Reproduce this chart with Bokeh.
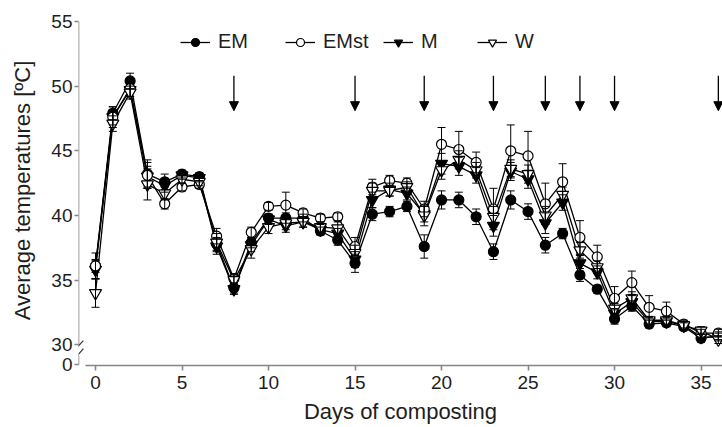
from bokeh.plotting import figure
from bokeh.models import (ColumnDataSource, Whisker, TeeHead, Arrow, NormalHead,
                          FixedTicker, Legend, LegendItem, Range1d)
from bokeh.embed import file_html
from bokeh.resources import INLINE

# ---------------- data ----------------
days = list(range(0, 37))

em = [36.1, 47.9, 50.4, 43.2, 42.6, 43.2, 43.0, 37.8, 34.4, 37.9, 39.8, 39.8, 39.8,
      38.8, 38.1, 36.3, 40.1, 40.3, 40.7, 37.6, 41.2, 41.2, 39.9, 37.2, 41.2, 40.3,
      37.7, 38.6, 35.4, 34.3, 32.0, 33.0, 31.6, 31.7, 31.4, 30.5, 30.7]
emst = [36.1, 47.6, 49.8, 43.1, 40.9, 42.2, 42.4, 38.4, 35.1, 38.7, 40.7, 40.8, 40.2,
        39.8, 39.9, 37.6, 42.2, 42.7, 42.5, 40.5, 45.5, 45.1, 44.1, 40.5, 45.0, 44.6,
        40.9, 42.6, 38.3, 36.8, 33.6, 34.8, 32.9, 32.6, 31.6, 30.9, 30.9]
m = [35.8, 47.6, 49.7, 43.0, 42.3, 43.1, 42.9, 37.6, 34.3, 37.7, 39.7, 39.2, 39.5,
     38.9, 38.6, 36.6, 41.2, 42.0, 41.7, 40.1, 44.0, 43.8, 43.1, 39.2, 43.4, 42.8,
     39.4, 41.0, 36.3, 35.6, 32.4, 33.3, 31.8, 31.8, 31.5, 30.6, 30.6]
w = [34.0, 47.1, 49.5, 42.4, 41.7, 42.8, 42.6, 37.9, 35.0, 37.4, 39.1, 39.4, 39.5,
     39.1, 39.0, 37.1, 41.9, 41.9, 42.2, 40.0, 43.5, 44.3, 43.5, 39.9, 43.6, 43.2,
     40.0, 41.6, 37.3, 36.0, 32.8, 33.6, 31.9, 31.9, 31.5, 31.1, 30.4]

em_sd = [0.5, 0.5, 0.6, 1.1, 0.6, 0.3, 0.3, 0.5, 0.4, 0.4, 0.3, 0.4, 0.3, 0.3, 0.4, 0.7,
         0.5, 0.4, 0.4, 0.9, 0.7, 0.6, 0.6, 0.6, 0.7, 0.6, 0.6, 0.4, 0.5, 0.3, 0.4, 0.4,
         0.3, 0.3, 0.3, 0.3, 0.3]
emst_sd = [1.0, 0.8, 0.6, 1.0, 0.4, 0.3, 0.3, 0.6, 0.4, 0.4, 0.3, 1.0, 0.3, 0.3, 0.3, 0.7,
           0.6, 0.4, 0.4, 0.6, 1.3, 1.4, 0.8, 1.6, 2.0, 1.9, 1.6, 1.4, 1.3, 0.9, 0.9, 0.9,
           0.9, 0.7, 0.3, 0.3, 0.3]
m_sd = [0.7, 0.6, 0.5, 0.8, 0.5, 0.3, 0.3, 0.6, 0.4, 0.5, 0.4, 0.5, 0.4, 0.4, 0.4, 0.6,
        0.6, 0.5, 0.5, 0.6, 0.8, 0.7, 0.6, 0.8, 0.7, 0.7, 0.8, 0.6, 0.6, 0.5, 0.4, 0.5,
        0.3, 0.3, 0.3, 0.3, 0.3]
w_sd = [1.1, 0.6, 0.5, 1.2, 0.5, 0.3, 0.3, 0.7, 0.4, 0.7, 0.5, 0.5, 0.4, 0.4, 0.5, 0.6,
        0.6, 0.4, 0.4, 0.8, 0.7, 0.7, 0.6, 0.8, 0.7, 0.7, 0.7, 0.6, 0.6, 0.5, 0.4, 0.5,
        0.3, 0.3, 0.3, 0.3, 0.3]

arrow_days = [8, 15, 19, 23, 26, 28, 30, 36]

x_ticks = [0, 5, 10, 15, 20, 25, 30, 35]
y_ticks = [28.5, 30, 35, 40, 45, 50, 55]
y_tick_labels = {28.5: "0"}

# ---------------- layout constants ----------------
FONT = "Liberation Sans"
AXIS_COLOR = "#858585"
TEXT_COLOR = "#1e1e1e"
X_START, X_END = -0.983, 36.24
Y_START, Y_END = 28.40, 55.46
ARROW_TOP, ARROW_TIP = 50.8, 48.1

p = figure(width=722, height=427, output_backend="svg", toolbar_location=None,
           x_range=Range1d(X_START, X_END), y_range=Range1d(Y_START, Y_END),
           min_border_left=78, min_border_right=0, min_border_top=15,
           min_border_bottom=62)
p.outline_line_color = None
p.grid.visible = False
p.background_fill_color = "white"

series = [
    ("EM", em, em_sd, "circle", "black", 10),
    ("EMst", emst, emst_sd, "circle", "white", 10),
    ("M", m, m_sd, "inverted_triangle", "black", 12),
    ("W", w, w_sd, "inverted_triangle", "white", 12),
]

# error bars
for name, vals, sd, mk, fc, sz in series:
    src = ColumnDataSource(dict(x=days,
                                lo=[v - s for v, s in zip(vals, sd)],
                                hi=[v + s for v, s in zip(vals, sd)]))
    p.add_layout(Whisker(source=src, base="x", lower="lo", upper="hi",
                         line_color="black", line_width=1,
                         lower_head=TeeHead(size=8, line_color="black", line_width=1),
                         upper_head=TeeHead(size=8, line_color="black", line_width=1),
                         level="glyph"))

lines = {}
for name, vals, sd, mk, fc, sz in series:
    lines[name] = p.line(days, vals, line_color="black", line_width=1.3)

marks = {}
for name in ["EM", "M", "EMst", "W"]:
    _, vals, sd, mk, fc, sz = [s for s in series if s[0] == name][0]
    marks[name] = p.scatter(days, vals, marker=mk, size=sz, fill_color=fc,
                            line_color="black", line_width=1.2)

# arrows
asrc = ColumnDataSource(dict(x=arrow_days, y0=[ARROW_TOP] * len(arrow_days),
                             y1=[ARROW_TIP] * len(arrow_days)))
p.add_layout(Arrow(source=asrc, x_start="x", y_start="y0", x_end="x", y_end="y1",
                   line_color="black", line_width=1.3,
                   end=NormalHead(size=9, fill_color="black", line_color="black")))

# axes
p.xaxis.ticker = FixedTicker(ticks=x_ticks)
p.yaxis.ticker = FixedTicker(ticks=y_ticks)
p.yaxis.major_label_overrides = y_tick_labels
p.xaxis.bounds = (-0.58, X_END)
for ax in (p.xaxis, p.yaxis):
    ax.axis_line_color = AXIS_COLOR
    ax.axis_line_width = 1.6
    ax.major_tick_line_color = AXIS_COLOR
    ax.major_tick_line_width = 1.6
    ax.major_tick_in = 0
    ax.minor_tick_line_color = None
    ax.major_label_text_font = FONT
    ax.major_label_text_font_size = "19px"
    ax.major_label_text_color = TEXT_COLOR
    ax.axis_label_text_font = FONT
    ax.axis_label_text_font_size = "22px"
    ax.axis_label_text_font_style = "normal"
    ax.axis_label_text_color = TEXT_COLOR
p.xaxis.major_tick_out = 5
p.yaxis.major_tick_out = 4
p.xaxis.major_label_standoff = 5
p.yaxis.major_label_standoff = 2
p.yaxis.axis_line_color = None
p.yaxis.axis_label = "Average temperatures [ºC]"
p.yaxis.axis_label_standoff = 13
p.xaxis.axis_label = "Days of composting"
p.xaxis.axis_label_standoff = 7

# broken y axis line
for (xa, ya, xb, yb) in [(X_START, 55.0, X_START, 29.94), (X_START, 29.17, X_START, Y_START)]:
    p.add_layout(Arrow(x_start=xa, y_start=ya, x_end=xb, y_end=yb, end=None,
                       line_color=AXIS_COLOR, line_width=1.6))
for (xa, ya, xb, yb) in [(-1.34, 29.40, -0.70, 30.33), (-1.30, 28.78, -0.70, 29.71)]:
    p.add_layout(Arrow(x_start=xa, y_start=ya, x_end=xb, y_end=yb, end=None,
                       line_color="#333333", line_width=1.2))

# legends (one per item, positioned like the reference)
leg_x = {"EM": 102, "EMst": 207, "M": 305, "W": 399}
for name in ["EM", "EMst", "M", "W"]:
    lg = Legend(items=[LegendItem(label=name, renderers=[lines[name], marks[name]])],
                location=(leg_x[name], 312), orientation="horizontal",
                padding=0, margin=0, spacing=0, glyph_width=30, glyph_height=20,
                label_height=20, label_standoff=8, border_line_color=None,
                background_fill_alpha=0, label_text_font=FONT,
                label_text_font_size="20px", label_text_color=TEXT_COLOR)
    p.add_layout(lg)

open("out.html", "w").write(file_html(p, INLINE))
